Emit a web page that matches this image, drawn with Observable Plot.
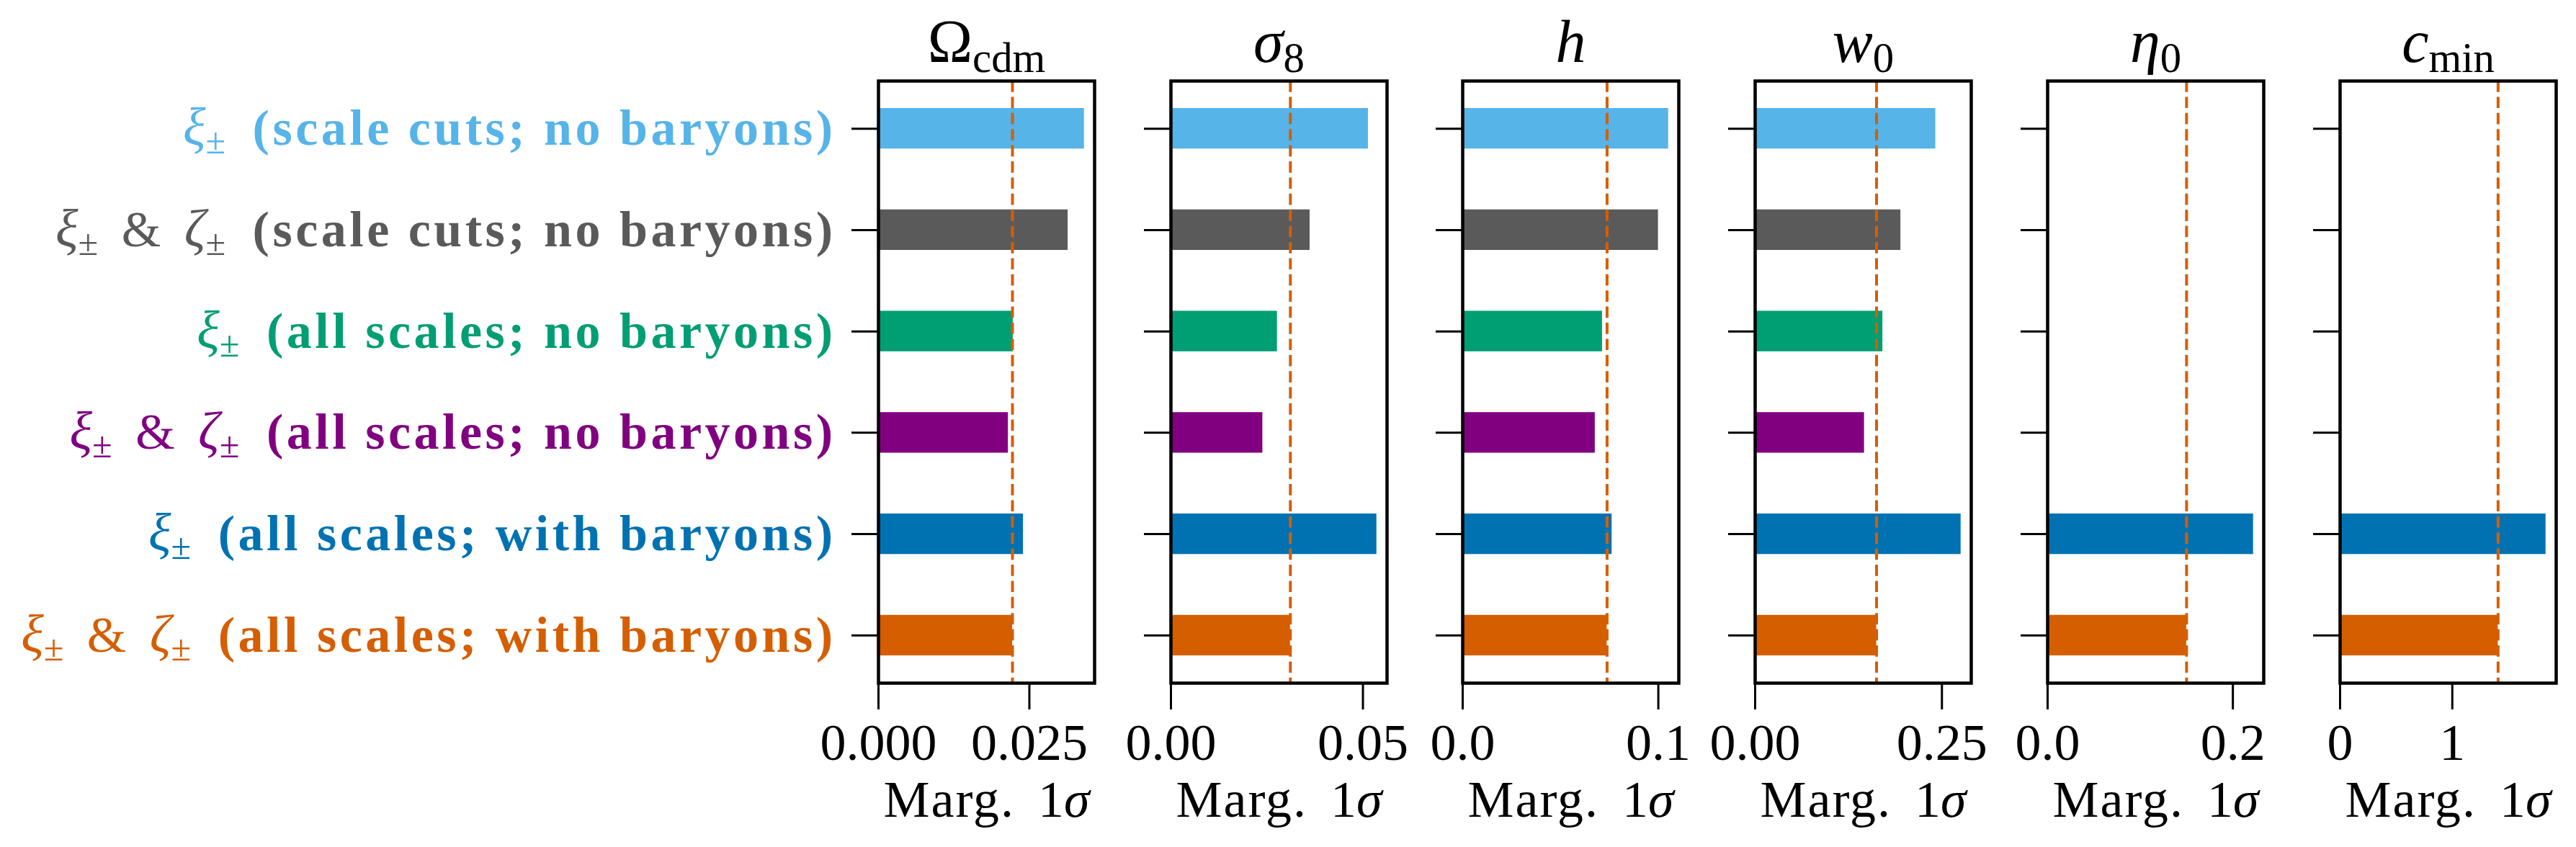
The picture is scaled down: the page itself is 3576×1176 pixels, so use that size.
<!DOCTYPE html>
<html><head><meta charset="utf-8">
<script src="https://cdn.jsdelivr.net/npm/d3@7"></script>
<script src="https://cdn.jsdelivr.net/npm/@observablehq/plot@0.6"></script>
<style>
html,body{margin:0;padding:0;background:#fff;}
#fig{position:relative;width:3576px;height:1176px;overflow:hidden;background:#fff;}
#fig > div{position:absolute;top:0;}
</style></head><body><div id="fig"></div>
<script>
// ---- data ----
const categories = ["xi_cuts", "xizeta_cuts", "xi_all", "xizeta_all", "xi_all_bary", "xizeta_all_bary"];
const probes = ["ξ±", "ξ± & ζ±", "ξ±", "ξ± & ζ±", "ξ±", "ξ± & ζ±"];
const settings = ["(scale cuts; no baryons)", "(scale cuts; no baryons)", "(all scales; no baryons)",
                  "(all scales; no baryons)", "(all scales; with baryons)", "(all scales; with baryons)"];
const colors = ["#56b4e9", "#5a5a5a", "#009e73", "#800080", "#0072b2", "#d55e00"];

const paramSymbols = ["Ω", "σ", "h", "w", "η", "c"];
const paramSubs = ["cdm", "8", "", "0", "0", "min"];

const omegaCdm = [0.0341, 0.0314, 0.0223, 0.0215, 0.0240, 0.0222];
const sigma8   = [0.0514, 0.0362, 0.0277, 0.0239, 0.0536, 0.0311];
const hubble   = [0.1052, 0.1000, 0.0714, 0.0677, 0.0763, 0.0738];
const w0       = [0.2416, 0.1949, 0.1708, 0.1462, 0.2755, 0.1625];
const eta0     = [null, null, null, null, 0.2222, 0.1500];
const cmin     = [null, null, null, null, 1.834, 1.408];
const panelValues = [omegaCdm, sigma8, hubble, w0, eta0, cmin];

const xTicks = [[0, 0.025], [0, 0.05], [0, 0.1], [0, 0.25], [0, 0.2], [0, 1]];
const xTickLabels = [["0.000", "0.025"], ["0.00", "0.05"], ["0.0", "0.1"], ["0.00", "0.25"], ["0.0", "0.2"], ["0", "1"]];
const xLabel = "Marg. 1σ";

// ---- layout ----
const H = 1176, TOP = 112, BOTTOM = 948, FIRST = 1219, PITCH = 405.7, FRAME_W = 300;
const FONT = "'Liberation Serif', 'Times New Roman', serif";

const fig = document.getElementById("fig");
const rich = new Map();
function addRich(key, parts) { rich.set(key, parts); }

// left labels rich text
const labels = probes.map((p, i) => p + " " + settings[i]);
labels.forEach((lab, i) => {
  const parts = [];
  for (const ch of probes[i]) {
    if (ch === "ξ" || ch === "ζ") parts.push({t: ch, style: "font-style:italic;font-weight:normal;font-size:1.05em"});
    else if (ch === "±") parts.push({t: ch, style: "font-size:0.72em;font-weight:normal", sub: 12});
    else if (ch === " ") parts.push({t: " ", style: "font-weight:normal;letter-spacing:15px"});
    else parts.push({t: ch, style: "font-weight:normal"});
  }
  parts.push({t: " ", style: "font-weight:normal;letter-spacing:20px"});
  parts.push({t: settings[i], style: "font-weight:bold;letter-spacing:4.5px"});
  addRich(lab, parts);
});
// titles rich text
const titles = paramSymbols.map((s, i) => s + paramSubs[i]);
titles.forEach((tt, i) => {
  const parts = [{t: paramSymbols[i], style: paramSymbols[i] === "Ω" ? "font-style:normal" : "font-style:italic"}];
  if (paramSubs[i]) parts.push({t: paramSubs[i], style: "font-style:normal;font-size:0.7em", sub: 14});
  addRich(tt, parts);
});
addRich(xLabel, [{t: "Marg.", style: "letter-spacing:2px"}, {t: " ", style: "letter-spacing:14px"},
                 {t: "1", style: ""}, {t: "σ", style: "font-style:italic"}]);

function applyRich(svg) {
  svg.querySelectorAll("text").forEach(t => {
    const parts = rich.get(t.textContent);
    if (!parts) return;
    t.textContent = "";
    let shift = 0;
    for (const p of parts) {
      const ts = document.createElementNS("http://www.w3.org/2000/svg", "tspan");
      ts.textContent = p.t;
      if (p.style) ts.setAttribute("style", p.style);
      const target = p.sub || 0;
      if (target !== shift) { ts.setAttribute("dy", target - shift); shift = target; }
      t.appendChild(ts);
    }
  });
}

panelValues.forEach((vals, k) => {
  const ml = k === 0 ? FIRST : 120;
  const mr = 120;
  const rows = categories.map((c, i) => ({i, cat: c, value: vals[i]})).filter(d => d.value != null);
  const ref = vals[5];
  const xmax = d3.max(rows, d => d.value) * 1.05;
  const marks = [
    Plot.rectX(rows, {x1: 0, x2: "value", y1: d => d.i - 0.2, y2: d => d.i + 0.2, fill: "cat"}),
    Plot.ruleX([ref], {stroke: "#d55e00", strokeWidth: 4, strokeDasharray: "15.7,6.7"}),
    Plot.frame({stroke: "black", strokeWidth: 4.5}),
    Plot.axisX({ticks: xTicks[k], tickFormat: d => xTickLabels[k][xTicks[k].indexOf(d)],
      tickSize: 37, tickPadding: 18, strokeWidth: 3, fontSize: 72, label: null}),
    Plot.axisY({ticks: d3.range(categories.length), tickSize: 37, strokeWidth: 3, tickFormat: () => "", label: null}),
    Plot.text([titles[k]], {frameAnchor: "top", dy: -53, fontSize: 84, lineAnchor: "middle"}),
    Plot.text([xLabel], {frameAnchor: "bottom", dy: 162, fontSize: 72, lineAnchor: "middle"})
  ];
  if (k === 0) {
    const labelRows = categories.map((c, i) => ({i, cat: c, label: labels[i]}));
    marks.push(Plot.text(labelRows, {x: 0, y: "i", text: "label", fill: "cat", textAnchor: "end",
      dx: -59, fontSize: 70, lineAnchor: "middle", fontWeight: "bold"}));
  }
  const chart = Plot.plot({
    width: ml + FRAME_W + mr,
    height: H,
    marginLeft: ml, marginRight: mr, marginTop: TOP, marginBottom: H - BOTTOM,
    style: {background: "transparent", overflow: "visible", fontFamily: FONT, color: "black", maxWidth: "none"},
    x: {domain: [0, xmax], label: null},
    y: {domain: [categories.length - 0.53, -0.47], label: null},
    color: {domain: categories, range: colors},
    marks
  });
  applyRich(chart);
  const wrap = document.createElement("div");
  wrap.style.left = (FIRST + k * PITCH - ml) + "px";
  wrap.appendChild(chart);
  fig.appendChild(wrap);
});
</script></body></html>
